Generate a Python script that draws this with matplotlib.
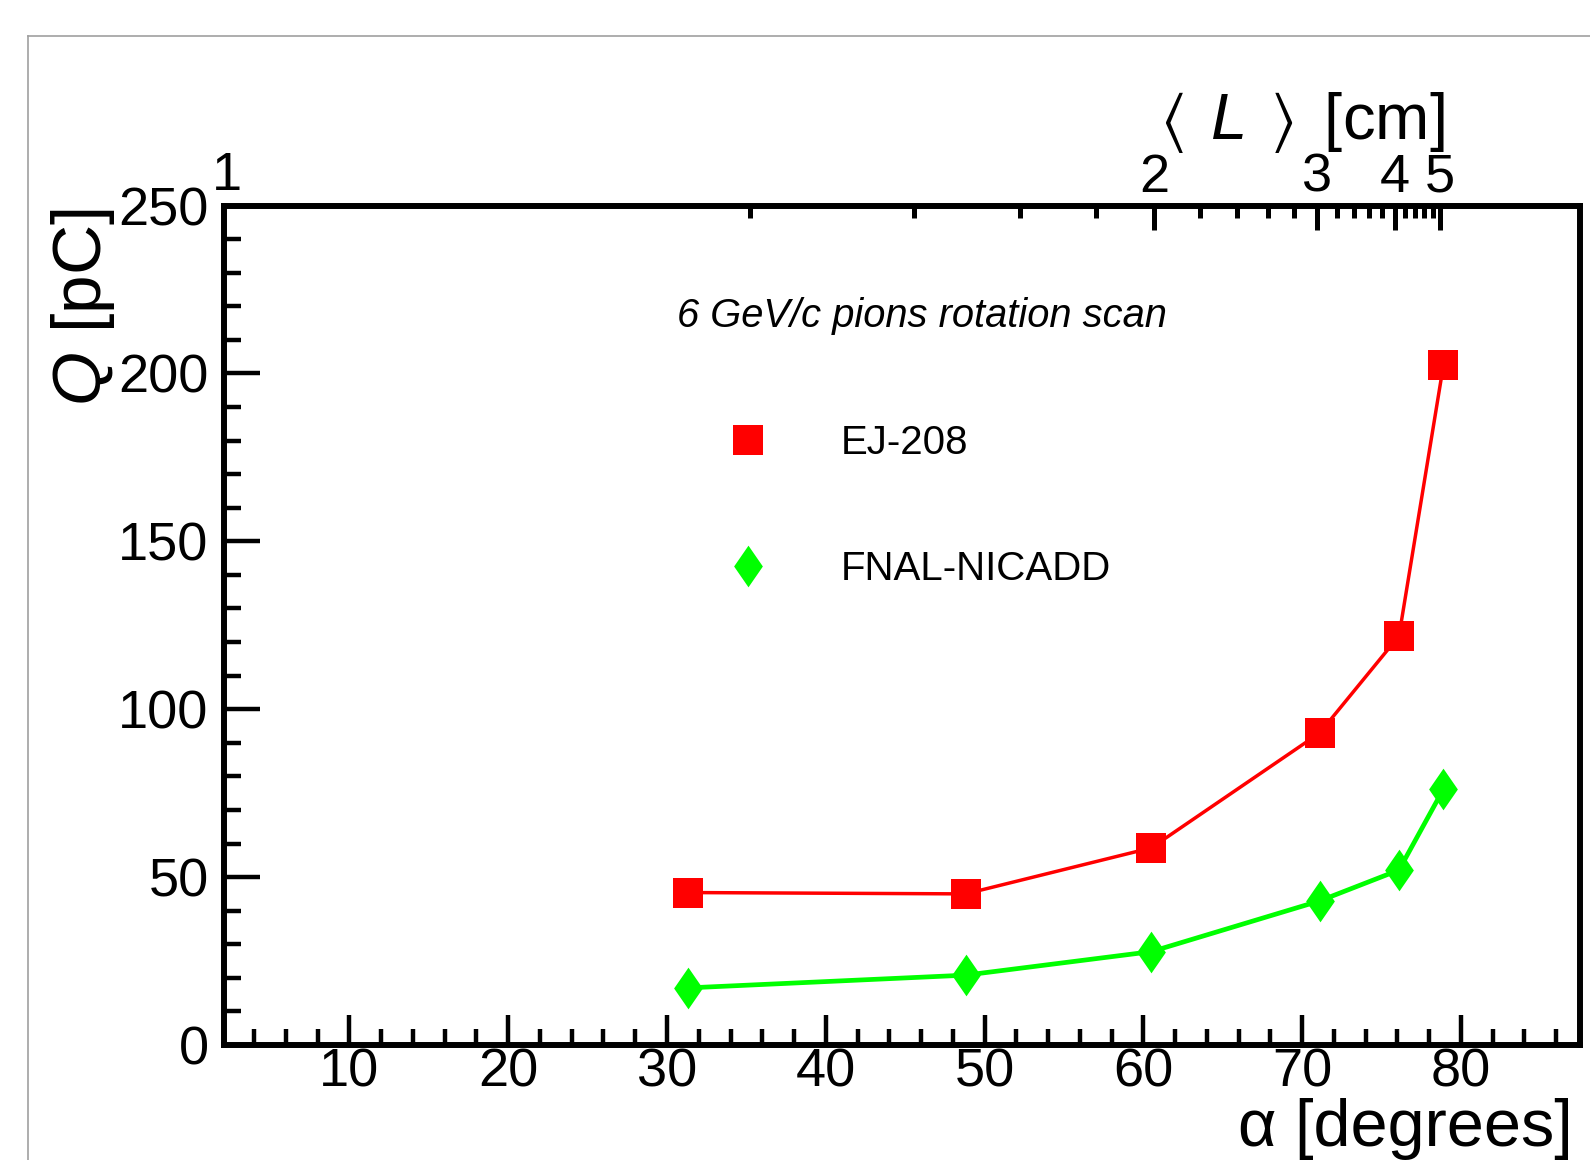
import numpy as np
import matplotlib
matplotlib.use("Agg")
import matplotlib.pyplot as plt
from matplotlib.lines import Line2D

plt.rcParams["font.family"] = ["Liberation Sans", "DejaVu Sans"]
plt.rcParams["mathtext.fontset"] = "custom"
plt.rcParams["mathtext.rm"] = "Liberation Sans"
plt.rcParams["mathtext.it"] = "Liberation Sans:italic"
plt.rcParams["mathtext.fallback"] = "stixsans"

# 数据
alpha_deg = [31.3, 48.8, 60.5, 71.1, 76.1, 78.9]
q_ej208 = [45.4, 45.0, 58.7, 92.9, 121.8, 202.5]
q_nicadd = [17.0, 20.8, 27.8, 42.9, 52.1, 76.2]

labels = ["EJ-208", "FNAL-NICADD"]
L_major = [2, 3, 4, 5]
L_minor = [1.2, 1.4, 1.6, 1.8, 2.2, 2.4, 2.6, 2.8,
           3.2, 3.4, 3.6, 3.8, 4.2, 4.4, 4.6, 4.8]

D = 0.98  # 厚度 [cm]


def to_L(a):
    a = np.clip(np.asarray(a, dtype=float), 0.0, 89.9)
    return D / np.cos(np.radians(a))


def to_alpha(L):
    L = np.maximum(np.asarray(L, dtype=float), D)
    return np.degrees(np.arccos(np.clip(D / L, -1, 1)))


RED = "#ff0000"
GREEN = "#00ff00"
diamond = [(0, 1), (0.69, 0), (0, -1), (-0.69, 0), (0, 1)]

fig = plt.figure(figsize=(15.9, 11.6), dpi=100)
ax = fig.add_axes([224 / 1590, 115 / 1160, 1356 / 1590, 839.5 / 1160])

ax.plot(alpha_deg, q_ej208, color=RED, lw=2.5, marker="s", ms=21.5,
        mec=RED, mfc=RED, mew=0)
ax.plot(alpha_deg, q_nicadd, color=GREEN, lw=3.4, marker=diamond, ms=30,
        mec=GREEN, mfc=GREEN, mew=0)

ax.set_xlim(2.1, 87.5)
ax.set_ylim(0, 250)

ax.set_xticks(np.arange(10, 90, 10))
ax.set_xticks(np.arange(4, 88, 2), minor=True)
ax.set_yticks(np.arange(0, 251, 50))
ax.set_yticks(np.arange(0, 251, 10), minor=True)

for s in ax.spines.values():
    s.set_linewidth(4.3)

ax.tick_params(axis="both", which="both", direction="in", width=3.2,
               top=False, right=False, labelsize=39, colors="black")
ax.tick_params(axis="x", which="major", length=21.6, pad=2)
ax.tick_params(axis="x", which="minor", length=11.5)
ax.tick_params(axis="y", which="major", length=26, pad=11)
ax.tick_params(axis="y", which="minor", length=12)

# 上轴: <L>
sec = ax.secondary_xaxis("top", functions=(to_L, to_alpha))
sec.set_xticks(L_major)
sec.set_xticks(L_minor, minor=True)
sec.set_xticklabels([str(v) for v in L_major])
sec.spines["top"].set_visible(False)
sec.tick_params(axis="x", which="both", direction="in", width=3.6,
                labelsize=39)
sec.tick_params(axis="x", which="major", length=18, pad=2)
sec.tick_params(axis="x", which="minor", length=9.5)
ax.annotate("1", xy=(0, 1), xycoords="axes fraction", xytext=(2, 11),
            textcoords="offset points", ha="center", va="baseline",
            fontsize=39)

ax.text(0.9004, 1.0798, r"$\langle\;\,L\;\,\rangle\,$ [cm]",
        transform=ax.transAxes, fontsize=47, ha="right", va="baseline")

ax.set_xlabel("α [degrees]", fontsize=48, ha="right", va="baseline")
ax.xaxis.set_label_coords(0.995, -0.1203)
ax.set_ylabel(r"$Q$ [pC]", fontsize=50, ha="right", va="baseline",
              rotation_mode="anchor")
ax.yaxis.set_label_coords(-0.0907, 0.997)

ax.text(0.334, 0.855, "6 GeV/c pions rotation scan", transform=ax.transAxes,
        fontsize=28.7, style="italic", va="baseline", ha="left")

handles = [
    Line2D([], [], ls="none", marker="s", ms=21.5, mfc=RED, mec=RED, mew=0),
    Line2D([], [], ls="none", marker=diamond, ms=30, mfc=GREEN, mec=GREEN,
           mew=0),
]
ax.legend(handles, labels, loc="upper left", bbox_to_anchor=(0.364, 0.740),
          frameon=False, fontsize=29, handlelength=1.5, handletextpad=1.55,
          labelspacing=2.2, borderpad=0, borderaxespad=0, numpoints=1)

# 外框 (灰线)
x0, y0 = 28 / 1590, 1 - 36 / 1160
fig.add_artist(Line2D([x0, 1.0], [y0, y0], transform=fig.transFigure,
                      color="#a0a0a0", lw=1.2))
fig.add_artist(Line2D([x0, x0], [y0, 0.0], transform=fig.transFigure,
                      color="#a0a0a0", lw=1.2))

fig.savefig("out.png", dpi=100)
